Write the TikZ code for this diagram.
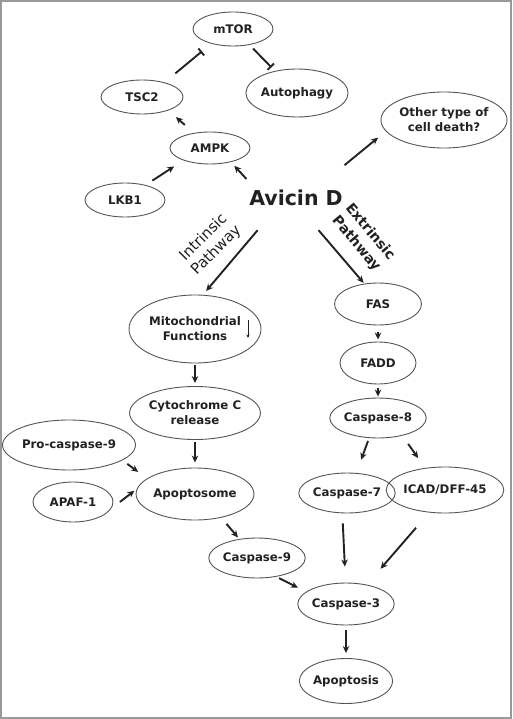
\documentclass[tikz,border=0pt]{standalone}
\usepackage{fontspec}
\setmainfont{DejaVu Sans}
\usetikzlibrary{shapes.geometric,arrows.meta}
\definecolor{ink}{HTML}{222222}
\definecolor{rim}{HTML}{555555}
\tikzset{
  oval/.style={ellipse, draw=rim, line width=0.9pt, inner sep=0pt, align=center,
     text=ink, font=\bfseries\fontsize{11.8}{15}\selectfont},
  act/.style={draw=ink, line width=1.9pt, -{Stealth[length=7pt,width=6.5pt]}},
  inhib/.style={draw=ink, line width=1.9pt, -{Bar[width=9pt,line width=1.9pt]}},
  pathlabel/.style={text=ink, align=center, font=\fontsize{15}{18}\selectfont, inner sep=0pt}
}
\begin{document}
\begin{tikzpicture}[x=1pt,y=-1pt]
\useasboundingbox (0,0) rectangle (512,719);
\fill[white] (0,0) rectangle (512,719);
\draw[black!40, line width=2pt] (1,1) rectangle (511,718);

\node[oval, minimum width=80pt, minimum height=34pt] (mtor) at (233,29) {mTOR};
\node[oval, minimum width=82pt, minimum height=34pt] (tsc2) at (142,97) {TSC2};
\node[oval, minimum width=97pt, minimum height=48pt] (autophagy) at (297,93) {Autophagy};
\node[oval, minimum width=80pt, minimum height=32pt] (ampk) at (210,148) {AMPK};
\node[oval, minimum width=109pt, minimum height=56pt] (other) at (444,120) {Other type of\\cell death?};
\node[oval, minimum width=80pt, minimum height=34pt] (lkb1) at (125,200) {LKB1};
\node[rectangle, minimum width=96pt, minimum height=64pt, inner sep=0pt, text=ink,
      font=\bfseries\fontsize{20.5}{24}\selectfont] (avicin) at (296,198) {Avicin D};

\node[pathlabel, rotate=45] (intr) at (210,244) {Intrinsic\\Pathway};
\node[pathlabel, rotate=-50, font=\bfseries\fontsize{14}{18}\selectfont] (extr) at (363,238) {Extrinsic\\Pathway};

\node[oval, minimum width=132pt, minimum height=68pt] (mito) at (195,329) {Mitochondrial\\Functions};
\node[oval, minimum width=119pt, minimum height=53pt] (cyto) at (195,413) {Cytochrome C\\release};
\node[oval, minimum width=113pt, minimum height=50pt] (procasp9) at (69,445) {Pro-caspase-9};
\node[oval, minimum width=115pt, minimum height=52pt] (apopt) at (195,494) {Apoptosome};
\node[oval, minimum width=80pt, minimum height=40pt] (apaf) at (73,502) {APAF-1};
\node[oval, minimum width=85pt, minimum height=40pt] (casp9) at (257,558) {Caspase-9};

\node[oval, minimum width=87pt, minimum height=42pt] (fas) at (378,304) {FAS};
\node[oval, minimum width=76pt, minimum height=42pt] (fadd) at (378,363) {FADD};
\node[oval, minimum width=77pt, minimum height=40pt] (casp8) at (378,418) {Caspase-8};
\node[oval, minimum width=85pt, minimum height=40pt] (casp7) at (347,493) {Caspase-7};
\node[oval, minimum width=96pt, minimum height=46pt] (icad) at (445,490) {ICAD/DFF-45};
\node[oval, minimum width=87pt, minimum height=42pt] (casp3) at (346,604) {Caspase-3};
\node[oval, minimum width=87pt, minimum height=45pt] (apoptosis) at (346,681) {Apoptosis};

% mTOR axis
\draw[inhib, shorten <=14pt, shorten >=12pt] (tsc2.33) -- (mtor.-146);
\draw[inhib, shorten <=5pt, shorten >=5pt] (mtor.-44) -- (autophagy.135);
\draw[act, shorten <=12pt, shorten >=10pt] (ampk.137) -- (tsc2.-27);
\draw[act, shorten <=8pt, shorten >=11pt] (lkb1.36) -- (ampk.-155);
\draw[act, shorten <=2pt, shorten >=5pt] (avicin.160) -- (ampk.-34);
\draw[act, shorten <=1pt, shorten >=10pt] (avicin.34) -- (other.-169);

% pathways
\draw[act, shorten >=5pt] (avicin.-140) -- (mito.77);
\draw[act, shorten >=1pt] (avicin.-55) -- (fas.124);

% intrinsic
\draw[act, shorten <=2pt, shorten >=3pt] (mito.south) -- (cyto.north);
\draw[act, shorten <=2.5pt, shorten >=5pt] (cyto.south) -- (apopt.north);
\draw[act, shorten <=6pt, shorten >=11pt] (procasp9.-16) -- (apopt.162);
\draw[act, shorten <=11pt, shorten >=3pt] (apaf.-10) -- (apopt.175);
\draw[act, shorten <=8pt, shorten >=2pt] (apopt.-42) -- (casp9.133);
\draw[act, shorten <=3pt, shorten >=9pt] (casp9.-44) -- (casp3.163);

% extrinsic
\draw[act, shorten <=7pt, shorten >=2pt] (fas.south) -- (fadd.north);
\draw[act, shorten <=4pt, shorten >=1pt] (fadd.south) -- (casp8.north);
\draw[act, shorten <=3pt, shorten >=14pt] (casp8.-114) -- (casp7.65);
\draw[act, shorten <=10pt, shorten >=12pt] (casp8.-36) -- (icad.132);
\draw[act, shorten <=10pt, shorten >=16pt] (casp7.-103) -- (casp3.91);
\draw[act, shorten <=20pt, shorten >=21pt] (icad.-125) -- (casp3.43);
\draw[act, shorten <=5pt, shorten >=5pt] (casp3.south) -- (apoptosis.north);

% small down arrow inside the mitochondrial node
\draw[draw=ink, line width=0.7pt, -{Stealth[length=3.5pt,width=3pt]}]
  ([xshift=53pt,yshift=9pt]mito.center) -- ([xshift=53pt,yshift=-9pt]mito.center);
\end{tikzpicture}
\end{document}
